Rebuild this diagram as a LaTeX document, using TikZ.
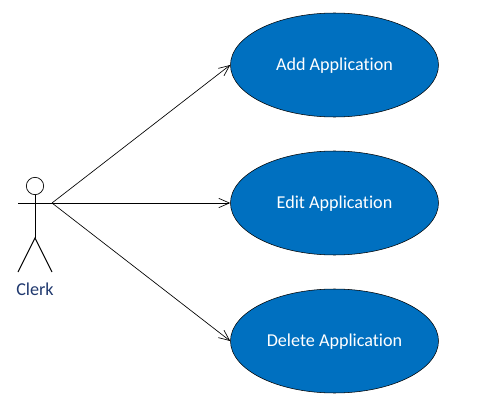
\documentclass[tikz,border=0pt]{standalone}
\usepackage{fontspec}
\setmainfont{Carlito}[Ligatures=NoCommon]
\usepackage{xcolor}
\usetikzlibrary{arrows.meta,positioning,calc,shapes.geometric}
\definecolor{caseblue}{RGB}{0,112,192}
\definecolor{clerkblue}{RGB}{31,56,110}
\tikzset{
  casebox/.style={draw=black, ellipse, fill=caseblue, text=white,
                  minimum width=208*0.75pt, minimum height=104*0.75pt,
                  text height=11pt, text depth=2.6pt,
                  font=\fontsize{13.6}{15}\selectfont, inner sep=0pt},
  arr/.style={-{Straight Barb[length=8pt,width=7pt]}, line width=0.5pt},
  stick/.style={line width=0.7pt},
}
\begin{document}
\begin{tikzpicture}[x=0.75pt,y=-0.75pt]
  \useasboundingbox (0,0) rectangle (483,414);
  \node[casebox] (add) at (334.5,65) {Add Application};
  \node[casebox] (edit) at (334.5,203) {Edit Application};
  \node[casebox] (del) at (334.5,341) {Delete Application};
  \node[circle, draw, minimum size=13pt, inner sep=0pt, line width=0.5pt] (head) at (35,186) {};
  \coordinate (hip) at (35,238);
  \coordinate (armL) at (18,203);
  \coordinate (armR) at (52,203);
  \coordinate (legL) at (18,272);
  \coordinate (legR) at (52,272);
  \node[text=clerkblue, font=\fontsize{13.6}{15}\selectfont, inner sep=0pt] (clerk) at (35,289) {Clerk};
  \draw[stick](head.south)--(hip);
  \draw[stick](armL)--(armR);
  \draw[stick](legL)--(hip)--(legR);
  \draw[arr](armR)--(add.west);
  \draw[arr](armR)--(edit.west);
  \draw[arr](armR)--(del.west);
\end{tikzpicture}
\end{document}
